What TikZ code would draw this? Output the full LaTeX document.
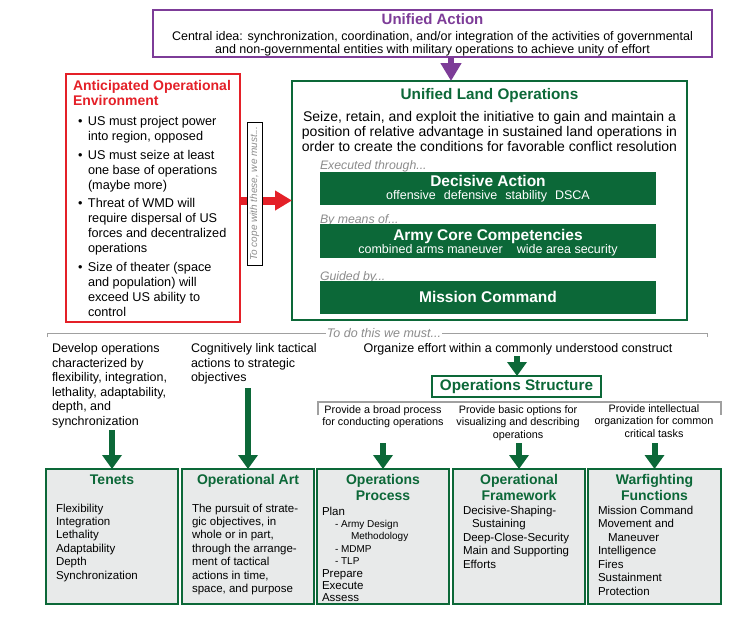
\documentclass[tikz,border=0pt]{standalone}
\usepackage{fontspec}
\setmainfont{Liberation Sans}
\usetikzlibrary{arrows.meta}
\definecolor{ugreen}{RGB}{12,104,56}
\definecolor{upurple}{RGB}{125,60,152}
\definecolor{ured}{RGB}{228,32,40}
\definecolor{labelgray}{RGB}{140,140,140}
\definecolor{linegray}{RGB}{160,160,160}
\definecolor{boxgray}{RGB}{232,234,234}
\newcommand{\fsz}[2]{\fontsize{#1}{#2}\selectfont}
\newcommand{\ml}[2]{\begin{tabular}[t]{@{}#1@{}}#2\end{tabular}}
\begin{document}
\begin{tikzpicture}[x=1pt,y=-1pt,
  every node/.style={inner sep=0pt,outer sep=0pt},
  bx/.style={anchor=north west},
  bar/.style={bx, fill=ugreen, draw=none},
  lowbox/.style={bx, fill=boxgray, draw=ugreen, line width=1.5pt, minimum width=132, minimum height=135},
  graylbl/.style={anchor=base west, font=\fsz{12.3}{14}\itshape, text=labelgray},
  bartitle/.style={anchor=base, font=\fsz{15.5}{18}\bfseries, text=white},
  barsub/.style={anchor=base, font=\fsz{12.5}{14}, text=white},
  lowtitle/.style={anchor=base, font=\fsz{14}{16}\bfseries, text=ugreen},
  lowtext/.style={anchor=base west, font=\fsz{11.5}{13.4}},
  smalltext/.style={anchor=base, font=\fsz{10.8}{12.5}},
  coltext/.style={anchor=base west, font=\fsz{12.5}{14.6}},
  garrow/.style={draw=ugreen, line width=6pt, -{Triangle[length=14pt,width=19pt]}},
]
\useasboundingbox (0,0) rectangle (751,616);
\fill[white] (0,0) rectangle (751,616);

% Unified Action
\node[bx, draw=upurple, line width=1.2pt, minimum width=559, minimum height=47] (ua) at (153,10) {};
\node[anchor=base, font=\fsz{15}{18}\bfseries, text=upurple] (uat) at (432.5,24.5) {Unified Action};
\node[anchor=base, font=\fsz{12.5}{13}] (uab) at (432.5,40.5) {\ml{c}{Central idea: synchronization, coordination, and/or integration of the activities of governmental\\and non-governmental entities with military operations to achieve unity of effort}};

% Unified Land Operations
\node[bx, draw=ugreen, line width=2.5pt, minimum width=395, minimum height=239] (ulo) at (292,81) {};
\coordinate (pa) at ([xshift=18.5pt]ua.south);
\draw[draw=upurple, line width=6pt, -{Triangle[length=18pt,width=20pt]}] (pa) -- (pa |- ulo.north);
\node[anchor=base, font=\fsz{15.3}{18}\bfseries, text=ugreen] (ulot) at (489.5,99.5) {Unified Land Operations};
\node[anchor=base, font=\fsz{14}{15}] (ulob) at (489.5,121.5) {\ml{c}{Seize, retain, and exploit the initiative to gain and maintain a\\position of relative advantage in sustained land operations in\\order to create the conditions for favorable conflict resolution}};

\node[graylbl] (ex) at (320,169) {Executed through...};
\node[bar, minimum width=336, minimum height=33] (da) at (320,172) {};
\node[bartitle] (dat) at (488,186.5) {Decisive Action};
\node[barsub] (das) at (488,199.5) {offensive\hspace{8pt}defensive\hspace{8pt}stability\hspace{8pt}DSCA};

\node[graylbl] (bm) at (320,223) {By means of...};
\node[bar, minimum width=336, minimum height=34] (acc) at (320,224) {};
\node[bartitle] (acct) at (488,240.5) {Army Core Competencies};
\node[barsub] (accs) at (488,253.5) {combined arms maneuver\hspace{14pt}wide area security};

\node[graylbl] (gb) at (320,280) {Guided by...};
\node[bar, minimum width=336, minimum height=33] (mc) at (320,281) {};
\node[bartitle] (mct) at (488,302.5) {Mission Command};

% Anticipated Operational Environment
\node[bx, draw=ured, line width=1.2pt, minimum width=174, minimum height=248] (aoe) at (66,74) {};
\node[anchor=base west, font=\fsz{14}{15.5}\bfseries, text=ured] (aoet) at (73,90) {\ml{l}{Anticipated Operational\\Environment}};
\node[anchor=base west, font=\fsz{12.7}{15}] (aoeb) at (78,125.5) {\ml{l}{%
\makebox[10pt][l]{•}US must project power\\\hspace*{10pt}into region, opposed\\[3.5pt]
\makebox[10pt][l]{•}US must seize at least\\\hspace*{10pt}one base of operations\\\hspace*{10pt}(maybe more)\\[3.5pt]
\makebox[10pt][l]{•}Threat of WMD will\\\hspace*{10pt}require dispersal of US\\\hspace*{10pt}forces and decentralized\\\hspace*{10pt}operations\\[3.5pt]
\makebox[10pt][l]{•}Size of theater (space\\\hspace*{10pt}and population) will\\\hspace*{10pt}exceed US ability to\\\hspace*{10pt}control}};

\draw[draw=ured, line width=8pt, -{Triangle[length=17pt,width=19pt]}] (aoe.east |- ulo.west) -- (ulo.west);
\node[draw=black, line width=0.6pt, fill=white, rotate=90, minimum width=143, minimum height=15, font=\fsz{10}{12}\itshape, text=labelgray] (cope) at (254.5,193.5) {To cope with these, we must...};

% To do this we must
\draw[linegray, line width=1pt] (47,337) -- (47,333) -- (707,333) -- (707,337);
\node[anchor=base, fill=white, inner xsep=1pt, inner ysep=1pt, font=\fsz{12.5}{14}\itshape, text=labelgray] (todo) at (384,337) {To do this we must...};

\node[coltext] (c1) at (52,352.5) {\ml{l}{Develop operations\\characterized by\\flexibility, integration,\\lethality, adaptability,\\depth, and\\synchronization}};
\node[coltext] (c2) at (191,352.5) {\ml{l}{Cognitively link tactical\\actions to strategic\\objectives}};
\node[anchor=base, font=\fsz{12.5}{14.6}] (c3) at (518,352.5) {Organize effort within a commonly understood construct};

\node[bx, draw=ugreen, line width=1.5pt, minimum width=169, minimum height=21, font=\fsz{15.3}{18}\bfseries, text=ugreen] (os) at (432,376) {Operations Structure};
\coordinate (a0) at (517,356);
\draw[garrow] (a0) -- (a0 |- os.north);

\draw[linegray, line width=1.5pt] (318,415) -- (318,402) -- (721,402) -- (721,415);
\node[smalltext] (p1) at (383,413) {\ml{c}{Provide a broad process\\for conducting operations}};
\node[smalltext] (p2) at (518,413) {\ml{c}{Provide basic options for\\visualizing and describing\\operations}};
\node[smalltext] (p3) at (654,412) {\ml{c}{Provide intellectual\\organization for common\\critical tasks}};

% lower boxes
\node[lowbox] (tenets) at (46,469) {};
\node[lowbox] (opart) at (182,469) {};
\node[lowbox] (opproc) at (317,469) {};
\node[lowbox] (opfw) at (453,469) {};
\node[lowbox, minimum width=133] (wff) at (588,469) {};

\coordinate (a1) at (112,430);
\coordinate (a2) at (248,388);
\coordinate (a3) at (383,443);
\coordinate (a4) at (519,443);
\coordinate (a5) at (654.5,443);
\draw[garrow] (a1) -- (tenets.north);
\draw[garrow] (a2) -- (opart.north);
\draw[garrow] (a3) -- (opproc.north);
\draw[garrow] (a4) -- (opfw.north);
\draw[garrow] (a5) -- (wff.north);

\node[lowtitle] (tent) at (112,484.5) {Tenets};
\node[lowtitle] (oat) at (248,484.5) {Operational Art};
\node[lowtitle] (opt) at (383,484.5) {\ml{c}{Operations\\Process}};
\node[lowtitle] (oft) at (519,484.5) {\ml{c}{Operational\\Framework}};
\node[lowtitle] (wft) at (654.5,484.5) {\ml{c}{Warfighting\\Functions}};

\node[lowtext] (tenc) at (56,512) {\ml{l}{Flexibility\\Integration\\Lethality\\Adaptability\\Depth\\Synchronization}};
\node[lowtext] (oac) at (192,512) {\ml{l}{The pursuit of strate-\\gic objectives, in\\whole or in part,\\through the arrange-\\ment of tactical\\actions in time,\\space, and purpose}};
\node[lowtext, font=\fsz{11.5}{12.4}] (opc) at (322,515) {\ml{l}{Plan\\{\fsz{10}{12.4}\hspace*{13pt}- Army Design}\\{\fsz{10}{12.4}\hspace*{29pt}Methodology}\\{\fsz{10}{12.4}\hspace*{13pt}- MDMP}\\{\fsz{10}{12.4}\hspace*{13pt}- TLP}\\Prepare\\Execute\\Assess}};
\node[lowtext, font=\fsz{11.5}{13.5}] (ofc) at (463,514) {\ml{l}{Decisive-Shaping-\\\hspace*{9pt}Sustaining\\Deep-Close-Security\\Main and Supporting\\Efforts}};
\node[lowtext, font=\fsz{11.5}{13.5}] (wfc) at (598,514) {\ml{l}{Mission Command\\Movement and\\\hspace*{10pt}Maneuver\\Intelligence\\Fires\\Sustainment\\Protection}};
\end{tikzpicture}
\end{document}
